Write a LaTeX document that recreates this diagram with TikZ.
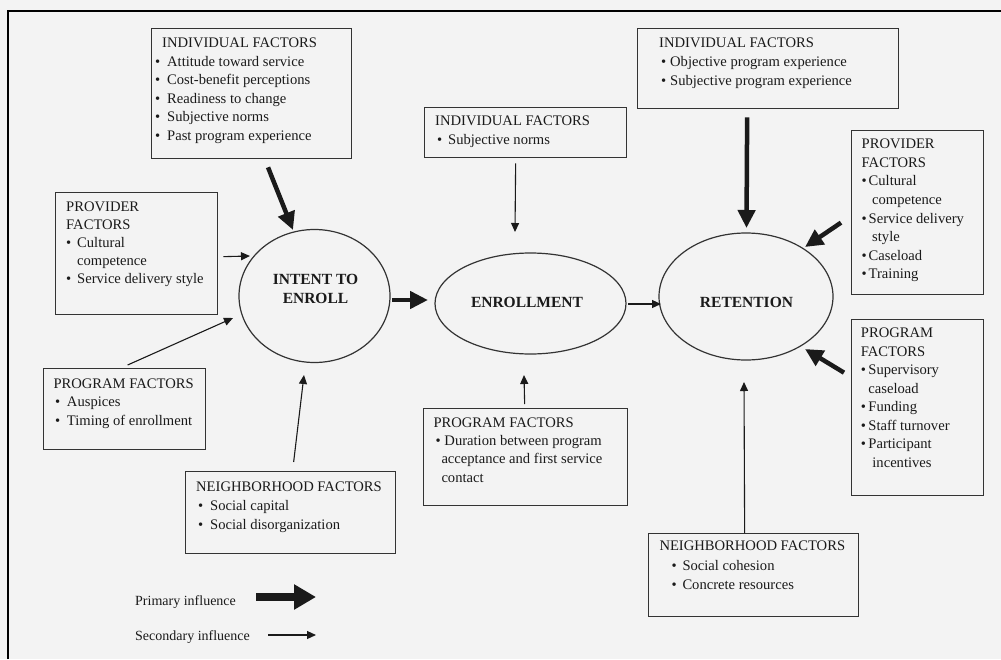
\documentclass[tikz,border=0pt]{standalone}
\usepackage{fontspec}
\setmainfont{Liberation Serif}
\usetikzlibrary{arrows.meta,calc,shapes.geometric}
\definecolor{bg}{HTML}{F3F3F3}
\definecolor{ink}{HTML}{1A1A1A}
\definecolor{edge}{HTML}{333333}
\newcommand{\bl}[1]{\makebox[#1][l]{\textbullet}}
\newcommand{\fs}{\rule{0pt}{11pt}}
\tikzset{
  fbox/.style={draw=edge, line width=1.3pt, rectangle, inner sep=0pt, anchor=north west},
  oval/.style={draw=edge, line width=1.2pt, ellipse, inner sep=0pt},
  boxtext/.style={anchor=north west, inner sep=0pt, align=left, text=ink, font=\fontsize{14.6}{18.6}\selectfont},
  ovaltext/.style={inner sep=0pt, align=center, text=ink, font=\fontsize{15.5}{18.5}\selectfont\bfseries},
  primary/.style={draw=ink, line width=4.5pt, -{Triangle[length=18pt,width=17pt]}},
  secondary/.style={draw=ink, line width=1.1pt, -{Triangle[length=9pt,width=8pt]}},
}
\begin{document}
\begin{tikzpicture}[x=1pt,y=-1pt]
\fill[bg] (0,0) rectangle (1001,659);
\useasboundingbox (0,0) rectangle (1001,659);
\draw[line width=2.3pt, black] (8,659) -- (8,11) -- (1001,11);

% ellipses
\node[oval, minimum width=151pt, minimum height=133pt] (intent) at (314.5,296) {};
\node[ovaltext] (intentT) at (315.5,289) {INTENT TO\\ENROLL};
\node[oval, minimum width=191pt, minimum height=101pt] (enroll) at (530.5,303.5) {};
\node[ovaltext] (enrollT) at (527,302) {ENROLLMENT};
\node[oval, minimum width=174pt, minimum height=127pt] (ret) at (746,296.5) {};
\node[ovaltext] (retT) at (746.5,302) {RETENTION};

% boxes
\node[fbox, minimum width=200pt, minimum height=130pt] (b1) at (151,28) {};
\node[boxtext] (b1T) at ($(b1.north west)+(4,8.3)$) {\fs\hspace*{7pt}INDIVIDUAL FACTORS\\
\bl{12pt}Attitude toward service\\
\bl{12pt}Cost-benefit perceptions\\
\bl{12pt}Readiness to change\\
\bl{12pt}Subjective norms\\
\bl{12pt}Past program experience};

\node[fbox, minimum width=162pt, minimum height=122pt] (pL) at (55,192) {};
\node[boxtext, font=\fontsize{14.6}{18.1}\selectfont] (pLT) at ($(pL.north west)+(11,8.3)$) {\fs PROVIDER\\
FACTORS\\
\bl{11pt}Cultural\\
\hspace*{11pt}competence\\
\bl{11pt}Service delivery style};

\node[fbox, minimum width=162pt, minimum height=81pt] (gL) at (43,368) {};
\node[boxtext] (gLT) at ($(gL.north west)+(10.3,8.9)$) {\fs PROGRAM FACTORS\\
\hspace*{1.5pt}\bl{12pt}Auspices\\
\hspace*{1.5pt}\bl{12pt}Timing of enrollment};

\node[fbox, minimum width=210pt, minimum height=82pt] (nL) at (185,471) {};
\node[boxtext, font=\fontsize{14.6}{18.8}\selectfont] (nLT) at ($(nL.north west)+(11,9.3)$) {\fs NEIGHBORHOOD FACTORS\\
\hspace*{2pt}\bl{12pt}Social capital\\
\hspace*{2pt}\bl{12pt}Social disorganization};

\node[fbox, minimum width=202pt, minimum height=50pt] (mI) at (424,107) {};
\node[boxtext, font=\fontsize{14.6}{19.3}\selectfont] (mIT) at ($(mI.north west)+(11,7.3)$) {\fs INDIVIDUAL FACTORS\\
\hspace*{2pt}\bl{11pt}Subjective norms};

\node[fbox, minimum width=204pt, minimum height=97pt] (mP) at (423,408) {};
\node[boxtext, font=\fontsize{14.6}{18.2}\selectfont] (mPT) at ($(mP.north west)+(10.3,8.3)$) {\fs PROGRAM FACTORS\\
\hspace*{2pt}\bl{9pt}Duration between program\\
\hspace*{8pt}acceptance and first service\\
\hspace*{8pt}contact};

\node[fbox, minimum width=261pt, minimum height=80pt] (rI) at (637,28) {};
\node[boxtext, font=\fontsize{14.6}{19}\selectfont] (rIT) at ($(rI.north west)+(22,8.3)$) {\fs INDIVIDUAL FACTORS\\
\hspace*{2pt}\bl{9pt}Objective program experience\\
\hspace*{2pt}\bl{9pt}Subjective program experience};

\node[fbox, minimum width=132pt, minimum height=164pt] (rP) at (851,130) {};
\node[boxtext, font=\fontsize{14.6}{18.55}\selectfont] (rPT) at ($(rP.north west)+(10.5,7.6)$) {\fs PROVIDER\\
FACTORS\\
\bl{7pt}Cultural\\
\hspace*{10.5pt}competence\\
\bl{7pt}Service delivery\\
\hspace*{10.5pt}style\\
\bl{7pt}Caseload\\
\bl{7pt}Training};

\node[fbox, minimum width=132pt, minimum height=176pt] (rG) at (851,319) {};
\node[boxtext, font=\fontsize{14.6}{18.5}\selectfont] (rGT) at ($(rG.north west)+(9.7,7.3)$) {\fs PROGRAM\\
FACTORS\\
\bl{7.5pt}Supervisory\\
\hspace*{7.5pt}caseload\\
\bl{7.5pt}Funding\\
\bl{7.5pt}Staff turnover\\
\bl{7.5pt}Participant\\
\hspace*{11.5pt}incentives};

\node[fbox, minimum width=210pt, minimum height=83pt] (rN) at (648,533) {};
\node[boxtext, font=\fontsize{14.6}{19.5}\selectfont] (rNT) at ($(rN.north west)+(11.3,6.6)$) {\fs NEIGHBORHOOD FACTORS\\
\hspace*{12pt}\bl{11pt}Social cohesion\\
\hspace*{12pt}\bl{11pt}Concrete resources};

% connectors
\draw[primary] ($(b1.south west)+(117,8)$) -- ($(intent.center)+(-21.5,-66)$);
\draw[secondary] ($(pL.east)+(5,3)$) -- ($(intent.center)+(-64.5,-40)$);
\draw[secondary] ($(gL.north)+(3,-3)$) -- ($(intent.center)+(-81.5,22)$);
\draw[secondary] ($(nL.north)+(3,-9)$) -- ($(intent.center)+(-10.5,79)$);
\draw[primary] ($(intent.center)+(77.5,4)$) -- ($(enroll.center)+(-102.5,-3.5)$);
\draw[secondary] ($(mI.south)+(-10,5)$) -- ($(enroll.center)+(-15.5,-71.5)$);
\draw[secondary] ($(mP.north)+(-1,-4)$) -- ($(enroll.center)+(-6.5,71.5)$);
\draw[secondary] ($(enroll.center)+(97.5,0.5)$) -- ($(ret.center)+(-85,7.5)$);
\draw[primary] ($(rI.south)+(-21,8)$) -- ($(ret.center)+(0.5,-68.5)$);
\draw[primary] ($(rP.west)+(-10,10)$) -- ($(ret.center)+(59,-49.5)$);
\draw[primary] ($(rG.west)+(-7,-35)$) -- ($(ret.center)+(59,52.5)$);
\draw[secondary] ($(rN.north)+(-9,0)$) -- ($(ret.center)+(-2,85.5)$);

% legend
\node[anchor=west, inner sep=0pt, text=ink, font=\fontsize{14}{16}\selectfont] (lgP) at (135,602) {Primary influence};
\node[anchor=west, inner sep=0pt, text=ink, font=\fontsize{14}{16}\selectfont] (lgS) at (135,637) {Secondary influence};
\coordinate (lp1) at (256,597);
\coordinate (lp2) at (316,597);
\coordinate (ls1) at (268,635);
\coordinate (ls2) at (316,635);
\draw[draw=ink, line width=8pt, -{Triangle[length=22pt,width=24pt]}] (lp1) -- (lp2);
\draw[secondary] (ls1) -- (ls2);
\end{tikzpicture}
\end{document}
